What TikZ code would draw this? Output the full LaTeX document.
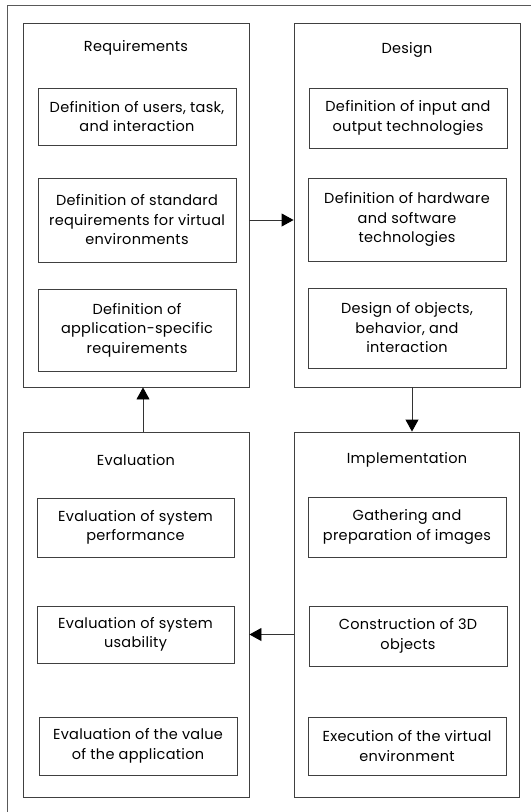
\documentclass[tikz,border=0pt]{standalone}
\usepackage{fontspec}
\setmainfont{Poppins}[LetterSpace=2]
\usetikzlibrary{arrows.meta}
\begin{document}
\begin{tikzpicture}[x=1pt,y=-1pt,
  lines/.style={draw=black!75,line width=0.9pt},
  phase/.style={lines,minimum width=226pt,minimum height=364pt,inner sep=0pt},
  task/.style={lines,minimum width=198pt,inner sep=0pt,align=center,font=\fontsize{14.5}{19.5}\selectfont},
  ttl/.style={font=\fontsize{14.5}{17}\selectfont},
  arr/.style={draw=black!80,line width=0.9pt,-{Triangle[length=12pt,width=13pt,color=black]}}]
\useasboundingbox (0,0) rectangle (531,812);
% outer frame (cropped)
\coordinate (fb) at (7,812);
\coordinate (ft) at (7,5);
\coordinate (fr) at (531,5);
\draw[draw=black!65,line width=1pt] (fb) -- (ft) -- (fr);
% phases
\node[phase] (req) at (136,205) {};
\node[phase] (des) at (407,205) {};
\node[phase,minimum height=365pt] (eva) at (136,614.5) {};
\node[phase,minimum width=225pt,minimum height=365pt] (imp) at (406.5,614.5) {};
% titles
\node[ttl] (treq) at (136,48) {Requirements};
\node[ttl] (tdes) at (407,50) {Design};
\node[ttl] (teva) at (136,460) {Evaluation};
\node[ttl] (timp) at (407,460) {Implementation};
% requirement tasks
\node[task,minimum height=57pt] (r1) at (137,116.5) {Definition of users, task,\\and interaction};
\node[task,minimum height=84pt] (r2) at (137,220) {Definition of standard\\requirements for virtual\\environments};
\node[task,minimum height=82pt] (r3) at (137,330) {Definition of\\application-specific\\requirements};
% design tasks
\node[task,minimum height=60pt] (d1) at (408,118) {Definition of input and\\output technologies};
\node[task,minimum height=83pt] (d2) at (407,219.5) {Definition of hardware\\and software\\technologies};
\node[task,minimum height=80pt] (d3) at (407,328) {Design of objects,\\behavior, and\\interaction};
% evaluation tasks
\node[task,minimum width=197pt,minimum height=59pt] (e1) at (135.5,527.5) {Evaluation of system\\performance};
\node[task,minimum width=197pt,minimum height=57pt] (e2) at (135.5,634.5) {Evaluation of system\\usability};
\node[task,minimum height=58pt] (e3) at (138,746) {Evaluation of the value\\of the application};
% implementation tasks
\node[task,minimum height=60pt] (i1) at (407,527) {Gathering and\\preparation of images};
\node[task,minimum height=60pt] (i2) at (408,636) {Construction of 3D\\objects};
\node[task,minimum height=58pt] (i3) at (407,746) {Execution of the virtual\\environment};
% flow
\draw[arr] (req.east |- r2) -- (des.west |- r2);
\draw[arr] ([xshift=5pt]des.south) -- ([xshift=5.5pt]imp.north);
\draw[arr] (imp.west |- e2) -- (eva.east |- e2);
\draw[arr] ([xshift=7pt]eva.north) -- ([xshift=7pt]req.south);
\end{tikzpicture}
\end{document}
